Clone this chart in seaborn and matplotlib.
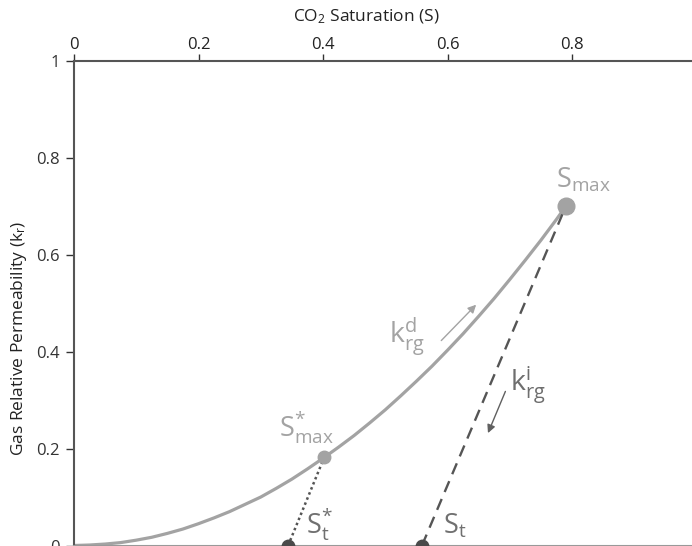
import matplotlib
matplotlib.use("Agg")
import matplotlib.pyplot as plt
import seaborn as sns
import pandas as pd

# Drainage curve: gas relative permeability vs CO2 saturation
sat = [0.0, 0.025, 0.05, 0.075, 0.10, 0.125, 0.15, 0.175, 0.20, 0.225,
       0.25, 0.275, 0.30, 0.325, 0.35, 0.375, 0.40, 0.425, 0.45, 0.475,
       0.50, 0.525, 0.55, 0.575, 0.60, 0.625, 0.65, 0.675, 0.70, 0.725,
       0.75, 0.775, 0.79]
krg_drain = [0.0, 0.001, 0.003, 0.006, 0.011, 0.017, 0.025, 0.034, 0.045, 0.057,
             0.070, 0.085, 0.100, 0.118, 0.137, 0.158, 0.180, 0.203, 0.227, 0.253,
             0.280, 0.309, 0.339, 0.370, 0.403, 0.437, 0.473, 0.510, 0.549, 0.589,
             0.630, 0.673, 0.700]

# Turning points and trapped saturations
s_max = (0.79, 0.70)
s_max_star = (0.402, 0.182)
s_t = (0.559, 0.0)
s_t_star = (0.344, 0.0)

x_ticks = [0, 0.2, 0.4, 0.6, 0.8]
x_tick_labels = ["0", "0.2", "0.4", "0.6", "0.8"]
y_ticks = [0, 0.2, 0.4, 0.6, 0.8, 1.0]
y_tick_labels = ["0", "0.2", "0.4", "0.6", "0.8", "1"]

sns.set_style("ticks")
plt.rcParams["font.family"] = ["Open Sans", "DejaVu Sans"]
plt.rcParams["mathtext.fontset"] = "custom"
plt.rcParams["mathtext.rm"] = "Open Sans"
plt.rcParams["mathtext.it"] = "Open Sans"

fig = plt.figure(figsize=(6.92, 5.46), dpi=100)
ax = fig.add_axes([74 / 692, 0.5 / 546, 622.5 / 692, 484.5 / 546])

light = "#a3a3a3"
dark = "#555555"

drain = pd.DataFrame({"S": sat, "krg": krg_drain})
sns.lineplot(data=drain, x="S", y="krg", ax=ax, color=light, lw=2.3,
             solid_capstyle="round", solid_joinstyle="round", zorder=2)

imb = pd.DataFrame({"S": [s_max[0], s_t[0]], "krg": [s_max[1], s_t[1]]})
sns.lineplot(data=imb, x="S", y="krg", ax=ax, color=dark, lw=1.7,
             linestyle=(0, (5, 3.2)), zorder=2)

scan = pd.DataFrame({"S": [s_max_star[0], s_t_star[0]],
                     "krg": [s_max_star[1], s_t_star[1]]})
sns.lineplot(data=scan, x="S", y="krg", ax=ax, color=dark, lw=1.8,
             linestyle=(0, (1, 1.2)), zorder=2)

ax.plot(*s_max, "o", ms=12, color=light, zorder=3, clip_on=False)
ax.plot(*s_max_star, "o", ms=9, color=light, zorder=3, clip_on=False)
ax.plot(*s_t, "o", ms=9, color="#4a4a4a", zorder=3, clip_on=False)
ax.plot(*s_t_star, "o", ms=9, color="#4a4a4a", zorder=3, clip_on=False)

# Point labels
fs = 19.5
ax.text(0.774, 0.738, r"$\mathregular{S_{max}}$", color=light, fontsize=fs,
        ha="left", va="baseline")
ax.text(0.330, 0.226, r"$\mathregular{S^{*}_{max}}$", color=light, fontsize=fs,
        ha="left", va="baseline")
ax.text(0.372, 0.024, r"$\mathregular{S^{*}_{t}}$", color="#707070", fontsize=fs,
        ha="left", va="baseline")
ax.text(0.592, 0.024, r"$\mathregular{S_{t}}$", color="#707070", fontsize=fs,
        ha="left", va="baseline")
ax.text(0.506, 0.418, r"$\mathregular{k^{d}_{rg}}$", color=light, fontsize=20.5,
        ha="left", va="baseline")
ax.text(0.700, 0.318, r"$\mathregular{k^{i}_{rg}}$", color="#6e6e6e", fontsize=20.5,
        ha="left", va="baseline")

# Direction arrows
ax.annotate("", xy=(0.646, 0.497), xytext=(0.590, 0.423),
            arrowprops=dict(arrowstyle="-|>", color=light, lw=1.0,
                            mutation_scale=12, shrinkA=0, shrinkB=0))
ax.annotate("", xy=(0.665, 0.232), xytext=(0.693, 0.318),
            arrowprops=dict(arrowstyle="-|>", color="#606060", lw=1.0,
                            mutation_scale=12, shrinkA=0, shrinkB=0))

ax.set_xlim(0, 1)
ax.set_ylim(0, 1)
ax.xaxis.tick_top()
ax.xaxis.set_label_position("top")
ax.set_xticks(x_ticks)
ax.set_xticklabels(x_tick_labels)
ax.set_yticks(y_ticks)
ax.set_yticklabels(y_tick_labels)
ax.tick_params(axis="both", labelsize=12, colors="#333333", length=6,
               width=1.0, pad=4)
ax.tick_params(axis="x", labelcolor="#222222", length=5, pad=0.5)

ax.set_xlabel(r"CO$_2$ Saturation (S)", fontsize=12.5, color="#222222")
ax.xaxis.set_label_coords(0.47, 1.082)
ax.set_ylabel(r"Gas Relative Permeability (k$_r$)", fontsize=12.5,
              color="#222222")
ax.yaxis.set_label_coords(-0.072, 0.428)

for side in ["top", "left"]:
    ax.spines[side].set_color("#555555")
    ax.spines[side].set_linewidth(1.5)
ax.spines["bottom"].set_visible(True)
ax.spines["bottom"].set_color("#999999")
ax.spines["bottom"].set_linewidth(1.5)
ax.spines["right"].set_visible(False)

fig.savefig("out.png", dpi=100)
